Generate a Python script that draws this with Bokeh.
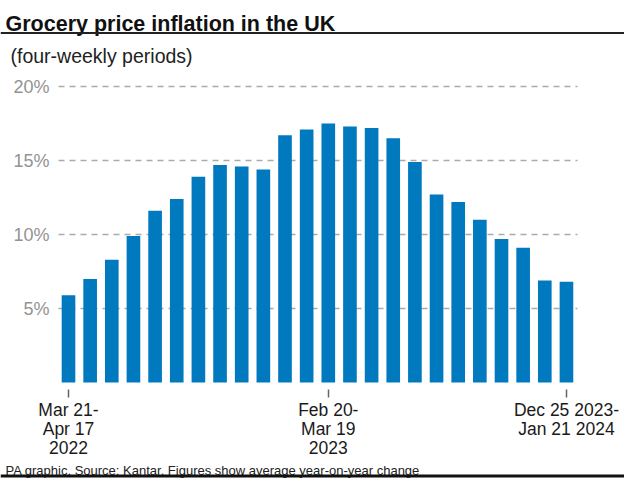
from bokeh.plotting import figure
from bokeh.layouts import column
from bokeh.models import FixedTicker, Label, Span, Range1d
from bokeh.core.properties import value
from bokeh.embed import file_html
from bokeh.resources import INLINE

# ---- data ----
periods = list(range(1, 25))
inflation = [5.9, 7.0, 8.3, 9.9, 11.6, 12.4, 13.9, 14.7, 14.6, 14.4, 16.7, 17.1,
             17.5, 17.3, 17.2, 16.5, 14.9, 12.7, 12.2, 11.0, 9.7, 9.1, 6.9, 6.8]
y_ticks = [5, 10, 15, 20]
y_tick_labels = ["5%", "10%", "15%", "20%"]
x_tick_positions = [1, 13, 24]
x_tick_labels = ["Mar 21-\nApr 17\n2022", "Feb 20-\nMar 19\n2023", "Dec 25 2023-\nJan 21 2024"]

title_text = "Grocery price inflation in the UK"
subtitle_text = "(four-weekly periods)"
footer_text = "PA graphic. Source: Kantar. Figures show average year-on-year change"

# ---- layout (pixels) ----
W = 624
TOP_H, MAIN_H, BOT_H = 70, 390, 20
AXIS_H = 71                      # bottom panel of the main chart (x-axis labels)
BAR_STEP = 21.65                 # px between bar centres
FIRST_BAR_PX = 68                # px of the first bar centre
GRID_LEFT_PX, GRID_RIGHT_PX = 58, 577
YLAB_RIGHT_PX = 49
PX_PER_PCT = 14.8
TOP20_PX = 16                    # 20% line below top of main chart
ZERO_BELOW = 7                   # px between 0% and bottom of plotting area

X0 = 1 - FIRST_BAR_PX / BAR_STEP
X1 = X0 + W / BAR_STEP
Y1 = 20 + TOP20_PX / PX_PER_PCT
Y0 = -ZERO_BELOW / PX_PER_PCT


def px_x(px):
    return X0 + px / BAR_STEP


FONT = "Liberation Sans"
BLUE = "#0079bf"


def banner(height):
    f = figure(width=W, height=height, output_backend="svg", toolbar_location=None,
               x_range=Range1d(0, W), y_range=Range1d(height, 0),
               x_axis_location=None, y_axis_location=None,
               min_border=0, min_border_left=0, min_border_right=0,
               min_border_top=0, min_border_bottom=0)
    f.outline_line_color = None
    f.grid.visible = False
    f.background_fill_color = "white"
    f.border_fill_color = "white"
    return f


# header
top = banner(TOP_H)
top.add_layout(Label(x=5, y=23.5, text=title_text, text_font=FONT,
                     text_font_style="bold", text_font_size="21.5px", text_color="#111111",
                     text_baseline="alphabetic"))
top.add_layout(Span(location=32.5, dimension="width", line_color="#222222", line_width=2))
top.add_layout(Label(x=10, y=55, text=subtitle_text, text_font=FONT,
                     text_font_size="19.5px", text_color="#222222", text_baseline="alphabetic"))

# main chart (plotting area spans full width; y labels drawn through the y scale)
p = figure(width=W, height=MAIN_H, output_backend="svg", toolbar_location=None,
           x_range=Range1d(X0, X1), y_range=Range1d(Y0, Y1),
           y_axis_location=None,
           min_border_left=0, min_border_right=0,
           min_border_top=0, min_border_bottom=AXIS_H)
p.outline_line_color = None
p.background_fill_color = "white"
p.border_fill_color = "white"
p.grid.visible = False

# dashed gridlines
p.segment(x0=[px_x(GRID_LEFT_PX)] * len(y_ticks), x1=[px_x(GRID_RIGHT_PX)] * len(y_ticks),
          y0=y_ticks, y1=y_ticks, line_color="#aaaaaa", line_dash="6 5", line_width=1.3)

# y tick labels
p.text(x=[px_x(YLAB_RIGHT_PX)] * len(y_ticks), y=y_ticks, text=y_tick_labels,
       text_font=value(FONT), text_font_size="18px", text_color="#939393",
       text_align="right", text_baseline="middle")

# bars
p.vbar(x=periods, top=inflation, bottom=0, width=0.63, fill_color=BLUE, line_color=None)

xa = p.xaxis[0]
xa.ticker = FixedTicker(ticks=x_tick_positions)
xa.major_label_overrides = {k: v for k, v in zip(x_tick_positions, x_tick_labels)}
xa.axis_line_color = None
xa.major_tick_in = 0
xa.major_tick_out = 8
xa.major_tick_line_color = "#666666"
xa.major_tick_line_width = 1.5
xa.minor_tick_line_color = None
xa.major_label_text_font = FONT
xa.major_label_text_font_size = "17.5px"
xa.major_label_text_color = "#1a1a1a"
xa.major_label_text_line_height = 0.95
xa.major_label_standoff = 2

# footer
bot = banner(BOT_H)
bot.add_layout(Label(x=5, y=10, text=footer_text, text_font=FONT,
                     text_font_size="13px", text_color="#222222", text_baseline="alphabetic"))
bot.add_layout(Span(location=15.5, dimension="width", line_color="#111111", line_width=3))

layout = column(top, p, bot, spacing=0)
open("out.html", "w").write(file_html(layout, INLINE))
